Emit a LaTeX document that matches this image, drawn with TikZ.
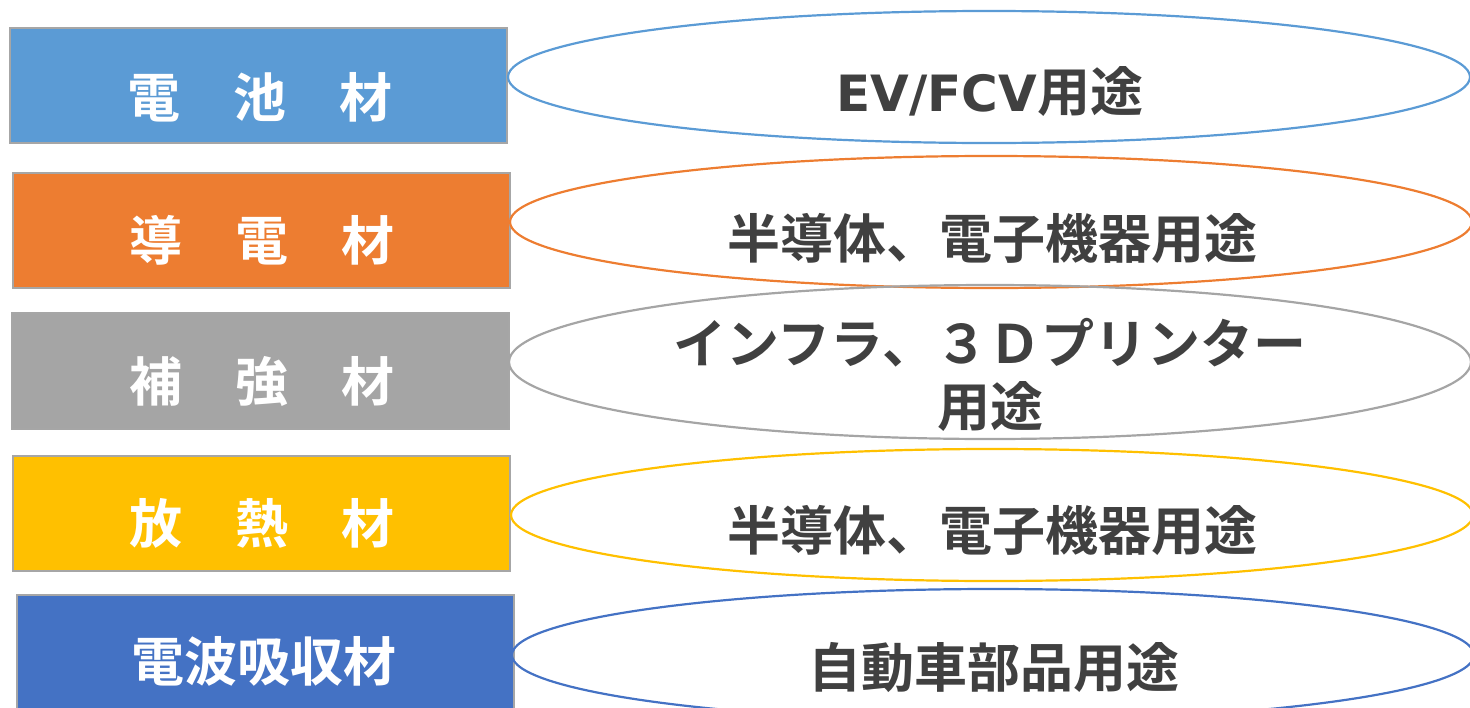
\documentclass[tikz,border=0pt]{standalone}
\usepackage{fontspec}
\usetikzlibrary{shapes.geometric}
\newfontfamily\cjk{Noto Sans CJK JP}[BoldFont={Noto Sans CJK JP Bold}]
\newfontfamily\latn{DejaVu Sans}
\definecolor{cblue}{HTML}{5B9BD5}
\definecolor{corange}{HTML}{ED7D31}
\definecolor{cgray}{HTML}{A5A5A5}
\definecolor{cyellow}{HTML}{FFC000}
\definecolor{cdblue}{HTML}{4472C4}
\definecolor{cborder}{HTML}{A6A6A6}
\definecolor{ctext}{HTML}{404040}
\tikzset{
  matbox/.style={draw=cborder, line width=2pt, inner sep=0pt, minimum width=497pt, minimum height=115pt},
  mattext/.style={text=white, font=\cjk\bfseries\fontsize{53}{63}\selectfont, inner sep=0pt},
  useell/.style={ellipse, draw=#1, line width=2.2pt, inner sep=0pt, minimum width=962pt, minimum height=132pt},
  usetext/.style={text=ctext, font=\cjk\bfseries\fontsize{53}{63}\selectfont, inner sep=0pt, align=center}
}
\begin{document}
\begin{tikzpicture}[x=1pt,y=-1pt]
\useasboundingbox (0,0) rectangle (1470,707);
\begin{scope}
\clip (0,0) rectangle (1470,707);
% boxes
\node[matbox, fill=cblue] (b1) at (258,85.5) {};
\node[matbox, fill=corange] (b2) at (261,230) {};
\node[matbox, fill=cgray, minimum height=116pt] (b3) at (260,371) {};
\node[matbox, fill=cyellow] (b4) at (261,513) {};
\node[matbox, fill=cdblue, minimum height=130pt] (b5) at (265,660) {};
% ellipses
\node[useell=cblue] (e1) at (989,77) {};
\node[useell=corange] (e2) at (991,222) {};
\node[useell=cgray, minimum height=154pt] (e3) at (990,362) {};
\node[useell=cyellow] (e4) at (992,515) {};
\node[useell=cdblue] (e5) at (993,655) {};
% box texts
\node[mattext] (t1) at (260,97) {電　池　材};
\node[mattext] (t2) at (262,240) {導　電　材};
\node[mattext] (t3) at (262,381) {補　強　材};
\node[mattext] (t4) at (262,523) {放　熱　材};
\node[mattext] (t5) at (264,661) {電波吸収材};
% ellipse texts
\node[usetext] (u1) at (990,92) {{\latn\bfseries\fontsize{50}{60}\selectfont EV/FCV}用途};
\node[usetext] (u2) at (992,238) {半導体、電子機器用途};
\node[usetext] (u3) at (990,375) {インフラ、３Ｄプリンター\\用途};
\node[usetext] (u4) at (992,530) {半導体、電子機器用途};
\node[usetext] (u5) at (994,668) {自動車部品用途};
\end{scope}
\end{tikzpicture}
\end{document}
